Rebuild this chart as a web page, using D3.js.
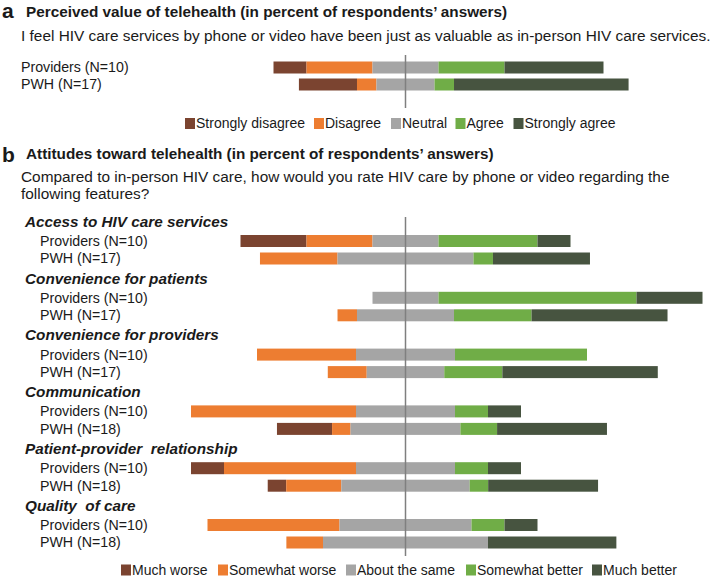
<!DOCTYPE html>
<html><head><meta charset="utf-8">
<script src="https://cdn.jsdelivr.net/npm/d3@7"></script>
<style>
html,body{margin:0;padding:0;background:#fff;}
text{font-family:"Liberation Sans",Arial,sans-serif;fill:#1a1a1a;}
</style></head>
<body>
<svg id="chart" width="713" height="583"></svg>
<script>
// ---------- DATA ----------
const levelsA = ["Strongly disagree","Disagree","Neutral","Agree","Strongly agree"];
const levelsB = ["Much worse","Somewhat worse","About the same","Somewhat better","Much better"];
const colors = ["#7b4430","#ed7d31","#a5a5a5","#70ad47","#475440"];

const groupsA = ["Providers (N=10)","PWH (N=17)"];
const valuesA = [
  [10,20,20,20,30],
  [17.6,5.9,17.6,5.9,52.9]
];

const features = ["Access to HIV care services","Convenience for patients","Convenience for providers",
  "Communication","Patient-provider\u00a0 relationship","Quality\u00a0 of care"];
const providerLabels = ["Providers (N=10)","Providers (N=10)","Providers (N=10)","Providers (N=10)","Providers (N=10)","Providers (N=10)"];
const pwhLabels = ["PWH (N=17)","PWH (N=17)","PWH (N=17)","PWH (N=18)","PWH (N=18)","PWH (N=18)"];
const providerValues = [
  [20,20,20,30,10],
  [0,0,20,60,20],
  [0,30,30,40,0],
  [0,50,30,10,10],
  [10,40,30,10,10],
  [0,40,40,10,10]
];
const pwhValues = [
  [0,23.5,41.2,5.9,29.4],
  [0,5.9,29.4,23.5,41.2],
  [0,11.8,23.5,17.6,47.1],
  [16.7,5.6,33.3,11.1,33.3],
  [5.6,16.7,38.9,5.6,33.3],
  [0,11.1,50,0,38.9]
];

// ---------- DRAW ----------
const svg = d3.select("#chart");
const center = 405.5;
const x = d3.scaleLinear().domain([-100,100]).range([center-330, center+330]);
const barH = 12;

function segments(vals){
  const start = -(vals[0]+vals[1]+vals[2]/2);
  let acc = start;
  return vals.map((v,i)=>{ const s={x0:acc,x1:acc+v,i}; acc+=v; return s; }).filter(s=>s.x1>s.x0);
}
function drawBar(g, vals, yc){
  g.selectAll(null).data(segments(vals)).join("rect")
    .attr("x", d=>x(d.x0)).attr("width", d=>x(d.x1)-x(d.x0))
    .attr("y", yc-barH/2).attr("height", barH)
    .attr("fill", d=>colors[d.i]);
}
function legend(g, labels, xs, yc){
  labels.forEach((l,i)=>{
    g.append("rect").attr("x", xs[i]).attr("y", yc-5.5).attr("width",10).attr("height",11).attr("fill",colors[i]);
    g.append("text").attr("x", xs[i]+11).attr("y", yc).attr("dy","0.35em").attr("font-size",14).text(l);
  });
}

// Panel a
svg.append("text").attr("x",2).attr("y",18).attr("font-size",21).attr("font-weight","bold").text("a");
svg.append("text").attr("x",26).attr("y",17).attr("font-size",15.3).attr("font-weight","bold")
  .text("Perceived value of telehealth (in percent of respondents\u2019 answers)");
svg.append("text").attr("x",21).attr("y",41).attr("font-size",15.4)
  .text("I feel HIV care services by phone or video have been just as valuable as in-person HIV care services.");

const yA = d3.scalePoint().domain(groupsA).range([67.5,84.5]);
const gA = svg.append("g");
groupsA.forEach((grp,k)=>{
  drawBar(gA, valuesA[k], yA(grp));
  gA.append("text").attr("x",21).attr("y",yA(grp)).attr("dy","0.35em").attr("font-size",14.2).text(grp);
});
svg.append("line").attr("x1",x(0)).attr("x2",x(0)).attr("y1",55).attr("y2",108)
  .attr("stroke","#7f7f7f").attr("stroke-width",1.5);
legend(svg.append("g"), levelsA, [185,314,391,455.5,513.5], 123.5);

// Panel b
svg.append("text").attr("x",2).attr("y",162).attr("font-size",21).attr("font-weight","bold").text("b");
svg.append("text").attr("x",26).attr("y",159).attr("font-size",15.3).attr("font-weight","bold")
  .text("Attitudes toward telehealth (in percent of respondents\u2019 answers)");
svg.append("text").attr("x",21).attr("y",182).attr("font-size",15.4)
  .text("Compared to in-person HIV care, how would you rate HIV care by phone or video regarding the");
svg.append("text").attr("x",21).attr("y",199).attr("font-size",15.4).text("following features?");

const yB = d3.scaleLinear().domain([0,features.length-1]).range([241,525]);
const gB = svg.append("g");
features.forEach((f,k)=>{
  const yp = yB(k), yw = yp+17.5;
  gB.append("text").attr("x",25).attr("y",yp-19.5).attr("dy","0.35em").attr("font-size",15.3)
    .attr("font-weight","bold").attr("font-style","italic").text(f);
  gB.append("text").attr("x",40).attr("y",yp).attr("dy","0.35em").attr("font-size",14.2).text(providerLabels[k]);
  gB.append("text").attr("x",40).attr("y",yw).attr("dy","0.35em").attr("font-size",14.2).text(pwhLabels[k]);
  drawBar(gB, providerValues[k], yp);
  drawBar(gB, pwhValues[k], yw);
});
svg.append("line").attr("x1",x(0)).attr("x2",x(0)).attr("y1",217).attr("y2",556)
  .attr("stroke","#7f7f7f").attr("stroke-width",1.5);
legend(svg.append("g"), levelsB, [121,218,346,466,592], 570);
</script>
</body></html>
